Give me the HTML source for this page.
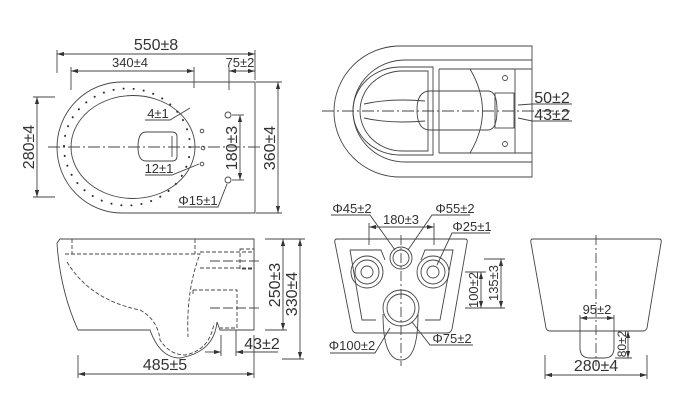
<!DOCTYPE html>
<html><head><meta charset="utf-8"><style>
html,body{margin:0;padding:0;background:#fff;}
svg{display:block;}
text{font-family:"Liberation Sans",sans-serif;fill:#333;}
</style></head><body>
<svg width="690" height="417" viewBox="0 0 690 417" xmlns="http://www.w3.org/2000/svg">
<defs>
<marker id="a" viewBox="0 0 10 6" refX="10" refY="3" markerWidth="8" markerHeight="5" orient="auto-start-reverse"><path d="M0,0 L10,3 L0,6 Z" fill="#333"/></marker>
</defs>
<g fill="none" stroke="#444" stroke-width="0.9">
<!-- ===== TOP LEFT PLAN ===== -->
<line x1="57" y1="54" x2="255" y2="54" marker-start="url(#a)" marker-end="url(#a)"/>
<line x1="57" y1="50" x2="57" y2="73"/><line x1="255" y1="50" x2="255" y2="80"/>
<line x1="71" y1="71" x2="194" y2="71" marker-start="url(#a)" marker-end="url(#a)"/>
<line x1="71" y1="67" x2="71" y2="90"/><line x1="194" y1="67" x2="194" y2="88"/>
<line x1="229" y1="71" x2="255" y2="71" marker-start="url(#a)" marker-end="url(#a)"/>
<line x1="229" y1="67" x2="229" y2="90"/>
<path d="M255,82 H122 A65,65.5 0 0 0 122,213 H255 Z"/>
<ellipse cx="133" cy="147" rx="62" ry="51.5"/>
<ellipse cx="127" cy="147" rx="63" ry="58.5" stroke="#333" stroke-width="2" stroke-dasharray="0.1 10" stroke-linecap="round" />
<path d="M146,132 H172 Q177,132 177,137 V156 Q177,161 172,161 H146 Q138,161 138,147 Q138,132 146,132 Z"/>
<line x1="172" y1="136" x2="172" y2="157"/>
<line x1="48" y1="147" x2="262" y2="147" stroke-dasharray="12 3 2 3"/>
<circle cx="228" cy="115" r="3"/><circle cx="228" cy="180" r="3"/>
<circle cx="202" cy="131" r="1.8"/><circle cx="203" cy="148" r="1.8"/><circle cx="202" cy="164" r="1.8"/>
<line x1="37" y1="97" x2="37" y2="197" marker-start="url(#a)" marker-end="url(#a)"/>
<line x1="33" y1="97" x2="55" y2="97"/><line x1="33" y1="197" x2="55" y2="197"/>
<line x1="240" y1="115" x2="240" y2="180" marker-start="url(#a)" marker-end="url(#a)"/>
<line x1="232" y1="115" x2="244" y2="115"/><line x1="232" y1="180" x2="244" y2="180"/>
<line x1="278" y1="82" x2="278" y2="213" marker-start="url(#a)" marker-end="url(#a)"/>
<line x1="256" y1="82" x2="282" y2="82"/><line x1="256" y1="213" x2="282" y2="213"/>
<polyline points="145,120 170,120 190,108"/>
<polyline points="145,175 172,175 199,164"/>
<polyline points="178,207 218,207 227,184"/>
<!-- ===== TOP RIGHT PLAN ===== -->
<path d="M532,46 H400 A66,65.5 0 0 0 400,177 H532 Z"/>
<path d="M532,60 H405 A52,51 0 0 0 405,162 H532"/>
<path d="M433,67 H400 A47,44 0 0 0 400,155 H433 Z"/>
<path d="M428,71 H402 A42,40 0 0 0 402,151 H428 Z"/>
<path d="M364,104 Q390,98 425,101 M364,118 Q390,124 425,121"/>
<line x1="439" y1="69" x2="439" y2="153"/><line x1="515" y1="69" x2="515" y2="153"/>
<line x1="439" y1="69" x2="532" y2="69"/><line x1="439" y1="153" x2="532" y2="153"/>
<path d="M470,69 Q495,111 470,153"/>
<path d="M430,91 H488 Q497,91 497,110 Q497,130 488,130 H430 Q417,130 417,110 Q417,91 430,91 Z"/>
<rect x="495" y="93" width="19" height="35"/>
<circle cx="505" cy="78" r="2.5"/><circle cx="505" cy="144" r="2.5"/>
<line x1="322" y1="111" x2="570" y2="111" stroke-dasharray="12 3 2 3"/>
<polyline points="572,104 532,104 518,105"/>
<polyline points="572,121 532,121 518,118"/>
<!-- ===== BOTTOM LEFT SIDE ===== -->
<path d="M60,239 H254 V330 H220 L217,322 Q214,352 180,358 Q160,358 150,330 H78 Q60,290 57,243 Z"/>
<g stroke-dasharray="4 2">
<path d="M65,254 H200 Q186,290 188,337"/>
<line x1="72" y1="239" x2="72" y2="254"/><line x1="195" y1="239" x2="195" y2="254"/>
<line x1="200" y1="252" x2="254" y2="252"/><line x1="200" y1="268" x2="254" y2="268"/>
<rect x="240" y="249" width="14" height="20"/>
<path d="M193,290 H237 V328 H220 M193,290 V296"/>
<path d="M67,262 Q90,300 140,310 Q158,320 160,340 Q170,355 185,355 Q210,350 214,323"/>
</g>
<line x1="210" y1="261" x2="260" y2="261" stroke-dasharray="10 3"/>
<line x1="210" y1="308" x2="260" y2="308" stroke-dasharray="10 3"/>
<line x1="283" y1="239" x2="283" y2="330" marker-start="url(#a)" marker-end="url(#a)"/>
<line x1="265" y1="239" x2="305" y2="239"/><line x1="265" y1="330" x2="287" y2="330"/>
<line x1="300" y1="239" x2="300" y2="359" marker-start="url(#a)" marker-end="url(#a)"/>
<line x1="282" y1="359" x2="304" y2="359"/>
<line x1="78" y1="374" x2="254" y2="374" marker-start="url(#a)" marker-end="url(#a)"/>
<line x1="78" y1="355" x2="78" y2="378"/><line x1="254" y1="335" x2="254" y2="378"/>
<line x1="236" y1="352" x2="278" y2="352" marker-start="url(#a)"/>
<line x1="236" y1="330" x2="236" y2="356"/>
<line x1="205" y1="352" x2="221" y2="352" marker-end="url(#a)"/>
<line x1="221" y1="335" x2="221" y2="356"/>
<!-- ===== BOTTOM MIDDLE REAR ===== -->
<path d="M337,239 H465 Q468,239 467,243 L452,329 Q451,333 447,333 H357 Q353,333 352,329 L335,243 Q334,239 337,239 Z"/>
<path d="M350,250 H381 L385,260 M421,260 L425,250 H453 L440,320 H425 M350,250 L362,320 H376"/>
<circle cx="367" cy="272" r="16"/><circle cx="367" cy="272" r="12"/><circle cx="367" cy="272" r="6"/>
<circle cx="433" cy="272" r="16"/><circle cx="433" cy="272" r="12"/><circle cx="433" cy="272" r="6"/>
<circle cx="401" cy="258" r="11"/><circle cx="401" cy="258" r="8"/>
<path d="M383,314 Q383,360 401,360 Q418,360 418,314"/>
<circle cx="401" cy="308" r="18"/><circle cx="401" cy="308" r="14"/>
<line x1="401" y1="235" x2="401" y2="366" stroke-dasharray="10 3 2 3"/>
<line x1="369" y1="227" x2="434" y2="227" marker-start="url(#a)" marker-end="url(#a)"/>
<line x1="369" y1="223" x2="369" y2="245"/><line x1="434" y1="223" x2="434" y2="245"/>
<line x1="481" y1="272" x2="481" y2="308" marker-start="url(#a)" marker-end="url(#a)"/>
<line x1="465" y1="272" x2="486" y2="272"/><line x1="465" y1="308" x2="505" y2="308"/>
<line x1="501" y1="259" x2="501" y2="308" marker-start="url(#a)" marker-end="url(#a)"/>
<line x1="484" y1="259" x2="505" y2="259"/>
<polyline points="331,215 370,215 395,250"/>
<polyline points="470,215 432,215 408,250"/>
<polyline points="490,233 452,233 437,265"/>
<polyline points="330,353 375,353 390,328"/>
<polyline points="473,345 430,345 412,322"/>
<!-- ===== BOTTOM RIGHT FRONT ===== -->
<path d="M533,239 H659 Q662,239 661,243 L647,328 Q646,331 643,331 H550 Q547,331 546,328 L531,243 Q530,239 533,239 Z"/>
<path d="M580,331 V348 Q580,358 590,358 H604 Q614,358 614,348 V331"/>
<line x1="580" y1="315" x2="580" y2="331"/><line x1="614" y1="315" x2="614" y2="331"/>
<line x1="596" y1="235" x2="596" y2="366" stroke-dasharray="10 3 2 3"/>
<line x1="580" y1="318" x2="614" y2="318" marker-start="url(#a)" marker-end="url(#a)"/>
<line x1="628" y1="331" x2="628" y2="358" marker-start="url(#a)" marker-end="url(#a)"/>
<line x1="615" y1="358" x2="632" y2="358"/>
<line x1="545" y1="375" x2="647" y2="375" marker-start="url(#a)" marker-end="url(#a)"/>
<line x1="545" y1="355" x2="545" y2="379"/><line x1="647" y1="355" x2="647" y2="379"/>
</g>
<g font-size="16">
<text x="156" y="50" text-anchor="middle">550±8</text>
<text x="130" y="67" text-anchor="middle" font-size="13">340±4</text>
<text x="240" y="67" text-anchor="middle" font-size="13">75±2</text>
<text x="158" y="118" text-anchor="middle" font-size="13">4±1</text>
<text x="159" y="173" text-anchor="middle" font-size="13">12±1</text>
<text x="198" y="205" text-anchor="middle" font-size="13">Φ15±1</text>
<text transform="translate(34,147) rotate(-90)" text-anchor="middle">280±4</text>
<text transform="translate(237,148) rotate(-90)" text-anchor="middle">180±3</text>
<text transform="translate(275,148) rotate(-90)" text-anchor="middle">360±4</text>
<text x="552" y="103" text-anchor="middle">50±2</text>
<text x="552" y="120" text-anchor="middle">43±2</text>
<text transform="translate(280,285) rotate(-90)" text-anchor="middle">250±3</text>
<text transform="translate(297,294) rotate(-90)" text-anchor="middle">330±4</text>
<text x="165" y="370" text-anchor="middle">485±5</text>
<text x="262" y="349" text-anchor="middle">43±2</text>
<text x="352" y="213" text-anchor="middle" font-size="13">Φ45±2</text>
<text x="401" y="224" text-anchor="middle" font-size="13">180±3</text>
<text x="455" y="213" text-anchor="middle" font-size="13">Φ55±2</text>
<text x="472" y="231" text-anchor="middle" font-size="13">Φ25±1</text>
<text transform="translate(478,290) rotate(-90)" text-anchor="middle" font-size="13">100±2</text>
<text transform="translate(498,283) rotate(-90)" text-anchor="middle" font-size="13">135±3</text>
<text x="352" y="350" text-anchor="middle" font-size="13">Φ100±2</text>
<text x="452" y="343" text-anchor="middle" font-size="13">Φ75±2</text>
<text x="597" y="314" text-anchor="middle" font-size="13">95±2</text>
<text transform="translate(626,344) rotate(-90)" text-anchor="middle" font-size="12">80±2</text>
<text x="596" y="371" text-anchor="middle">280±4</text>
</g>
</svg>
</body></html>
